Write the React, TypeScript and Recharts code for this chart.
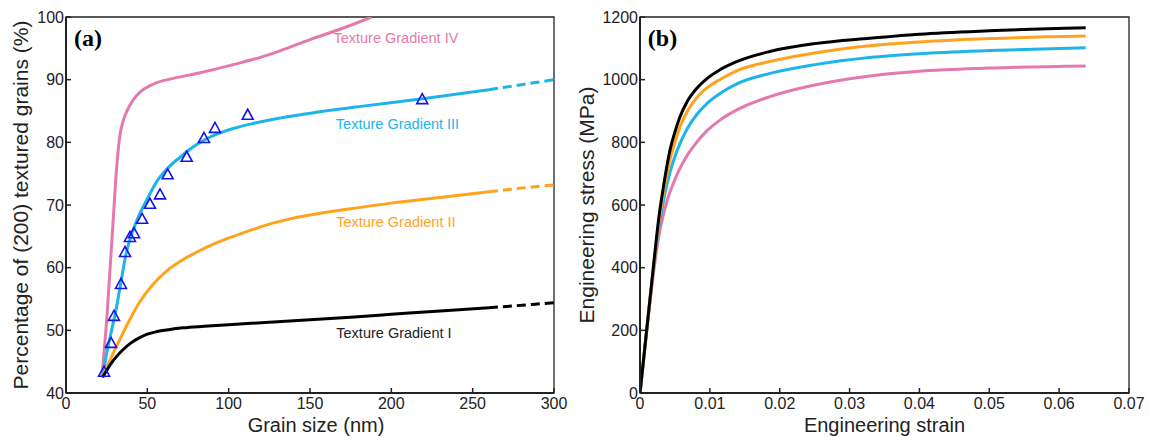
import React from 'react'
import { ComposedChart, LineChart, Line, Scatter, XAxis, YAxis, ReferenceArea, ReferenceDot } from 'recharts'

const PINK = '#E579AE'
const BLUE = '#1DB4EA'
const ORANGE = '#FFA31F'
const BLACK = '#000000'
const AXIS = '#222222'

// panel (a): grain size (nm) vs. percentage of (200) textured grains
const grainTicks = [0, 50, 100, 150, 200, 250, 300]
const percentTicks = [40, 50, 60, 70, 80, 90, 100]

const sizeIV = [22, 25, 27, 29, 31, 33.2, 35, 37.3, 41.4, 45.5, 53.7, 66, 82.4, 102.8, 120, 131.5, 150, 170, 188]
const pctIV = [42.5, 51.6, 59.5, 67.5, 75.5, 81.2, 83.3, 84.9, 86.8, 88, 89.3, 90.2, 91.1, 92.4, 93.6, 94.6, 96.4, 98.2, 100]

const sizeIII = [22.5, 25, 28, 30, 33, 37, 41, 45.5, 49.6, 55.7, 61.9, 70, 78.3, 86.5, 94.7, 102.8, 115, 130, 144, 180, 218, 260]
const pctIII = [42.5, 46.3, 50, 52.3, 56.5, 62.3, 65.8, 68.7, 70.8, 73.7, 75.7, 77.6, 79.3, 80.6, 81.5, 82.2, 83, 83.8, 84.4, 85.7, 86.9, 88.4]
const sizeIIIext = [260, 280, 300]
const pctIIIext = [88.4, 89.2, 90.0]

const sizeII = [22.5, 25, 28, 33, 39, 45.5, 53, 62, 72, 82, 92, 103, 115, 130, 150, 175, 200, 230, 260]
const pctII = [42.5, 44, 45.8, 48.5, 51.6, 54.6, 57.2, 59.5, 61.3, 62.7, 63.9, 65, 66.1, 67.3, 68.4, 69.4, 70.3, 71.2, 72.1]
const sizeIIext = [260, 280, 300]
const pctIIext = [72.1, 72.7, 73.2]

const sizeI = [22.5, 25, 28, 31, 35, 40, 45, 50, 56, 63, 72, 85, 100, 120, 145, 175, 200, 230, 260]
const pctI = [42.5, 43.6, 44.8, 45.8, 46.9, 48, 48.8, 49.4, 49.8, 50.1, 50.4, 50.65, 50.9, 51.2, 51.6, 52.1, 52.55, 53.1, 53.6]
const sizeIext = [260, 280, 300]
const pctIext = [53.6, 54, 54.4]

const measuredSize = [23.4, 27.7, 29.5, 33.8, 36.3, 39.3, 41.8, 46.8, 51.6, 57.8, 62.5, 74.2, 84.8, 91.6, 111.7, 219]
const measuredPct = [43.4, 48, 52.3, 57.4, 62.5, 64.9, 65.5, 67.8, 70.2, 71.7, 74.9, 77.7, 80.7, 82.3, 84.4, 86.9]

// panel (b): engineering stress-strain curves
const strainTicks = [0, 0.01, 0.02, 0.03, 0.04, 0.05, 0.06, 0.07]
const stressTicks = [0, 200, 400, 600, 800, 1000, 1200]

const strain = [0, 0.001, 0.002, 0.0027, 0.0033, 0.0038, 0.0043, 0.005, 0.0057, 0.0068, 0.0081, 0.0095, 0.0114, 0.014, 0.0186, 0.025, 0.0329, 0.04, 0.05, 0.0638]
const stressI = [0, 210, 420, 560, 650, 718, 776, 833, 880, 932, 972, 1002, 1031, 1059, 1090, 1115, 1132, 1145, 1156, 1166]
const stressII = [0, 210, 415, 545, 630, 692, 745, 800, 848, 900, 942, 972, 1000, 1030, 1058, 1085, 1108, 1120, 1131, 1139]
const stressIII = [0, 208, 410, 530, 605, 660, 705, 755, 795, 845, 888, 922, 955, 988, 1020, 1048, 1071, 1083, 1093, 1102]
const stressIV = [0, 205, 395, 500, 565, 607, 642, 682, 716, 760, 800, 835, 870, 905, 946, 983, 1012, 1027, 1037, 1044]

const pts = (xs: number[], ys: number[]) => xs.map((x, i) => ({ x, y: ys[i] }))

function YTitle({ viewBox, text, bx }: any) {
  const cx = viewBox.x + bx
  const cy = viewBox.y + viewBox.height / 2
  return (
    <text x={cx} y={cy} transform={`rotate(-90 ${cx} ${cy})`} textAnchor="middle" fontSize={21} fill={AXIS}>
      {text}
    </text>
  )
}

function XTitle({ viewBox, text, dx }: any) {
  return (
    <text x={viewBox.x + viewBox.width / 2 + dx} y={viewBox.y + 39} textAnchor="middle" fontSize={20} fill={AXIS}>
      {text}
    </text>
  )
}

function Triangle({ cx, cy }: any) {
  if (cx == null || cy == null) return null
  const h = 9
  const w = 11
  return (
    <polygon
      points={`${cx},${cy - h / 2 - 1} ${cx - w / 2},${cy + h / 2} ${cx + w / 2},${cy + h / 2}`}
      fill="none"
      stroke="#1414E6"
      strokeWidth={1.6}
    />
  )
}

const tickStyle = { fill: AXIS, fontSize: 16 }
const tickLine = { stroke: AXIS, strokeWidth: 1.5 }
const axisLine = { stroke: AXIS, strokeWidth: 2 }
const margin = { top: 17, right: 21, bottom: 0, left: 0 }
const serif = '"Liberation Serif", "Times New Roman", serif'

function GrainPanel() {
  return (
    <ComposedChart width={575} height={437} margin={margin}>
      <ReferenceArea x1={0} x2={300} y1={40} y2={100} fill="none" stroke={AXIS} strokeWidth={1.3} />
      <XAxis
        type="number"
        dataKey="x"
        domain={[0, 300]}
        ticks={grainTicks}
        interval={0}
        allowDataOverflow
        height={44}
        tickSize={-5}
        tickMargin={10}
        tick={tickStyle}
        tickLine={tickLine}
        axisLine={axisLine}
        label={<XTitle text="Grain size (nm)" dx={6} />}
      />
      <YAxis
        type="number"
        dataKey="y"
        domain={[40, 100]}
        ticks={percentTicks}
        interval={0}
        allowDataOverflow
        width={66}
        tickSize={-5}
        tickMargin={7}
        tick={tickStyle}
        tickLine={tickLine}
        axisLine={axisLine}
        label={<YTitle text="Percentage of (200) textured grains (%)" bx={28} />}
      />
      <Line data={pts(sizeIV, pctIV)} dataKey="y" type="monotone" stroke={PINK} strokeWidth={3} dot={false} isAnimationActive={false} />
      <Line data={pts(sizeIII, pctIII)} dataKey="y" type="monotone" stroke={BLUE} strokeWidth={3} dot={false} isAnimationActive={false} />
      <Line data={pts(sizeIIIext, pctIIIext)} dataKey="y" type="monotone" stroke={BLUE} strokeWidth={3} strokeDasharray="9 5" dot={false} isAnimationActive={false} />
      <Line data={pts(sizeII, pctII)} dataKey="y" type="monotone" stroke={ORANGE} strokeWidth={3} dot={false} isAnimationActive={false} />
      <Line data={pts(sizeIIext, pctIIext)} dataKey="y" type="monotone" stroke={ORANGE} strokeWidth={3} strokeDasharray="9 5" dot={false} isAnimationActive={false} />
      <Line data={pts(sizeI, pctI)} dataKey="y" type="monotone" stroke={BLACK} strokeWidth={3} dot={false} isAnimationActive={false} />
      <Line data={pts(sizeIext, pctIext)} dataKey="y" type="monotone" stroke={BLACK} strokeWidth={3} strokeDasharray="9 5" dot={false} isAnimationActive={false} />
      <Scatter data={pts(measuredSize, measuredPct)} dataKey="y" shape={<Triangle />} isAnimationActive={false} />
      <ReferenceDot x={13.5} y={96.8} r={0} fill="none" stroke="none"
        label={{ value: '(a)', position: 'center', fill: BLACK, fontSize: 24, fontWeight: 'bold', fontFamily: serif }} />
      <ReferenceDot x={202.8} y={96.6} r={0} fill="none" stroke="none" label={{ value: 'Texture Gradient IV', position: 'center', fill: PINK, fontSize: 14.5 }} />
      <ReferenceDot x={203.8} y={82.9} r={0} fill="none" stroke="none" label={{ value: 'Texture Gradient III', position: 'center', fill: BLUE, fontSize: 14.5 }} />
      <ReferenceDot x={202.8} y={67.3} r={0} fill="none" stroke="none" label={{ value: 'Texture Gradient II', position: 'center', fill: ORANGE, fontSize: 14.5 }} />
      <ReferenceDot x={201.6} y={49.6} r={0} fill="none" stroke="none" label={{ value: 'Texture Gradient I', position: 'center', fill: '#222', fontSize: 14.5 }} />
    </ComposedChart>
  )
}

function StressPanel() {
  return (
    <LineChart width={575} height={437} margin={margin}>
      <ReferenceArea x1={0} x2={0.07} y1={0} y2={1200} fill="none" stroke={AXIS} strokeWidth={1.3} />
      <XAxis
        type="number"
        dataKey="x"
        domain={[0, 0.07]}
        ticks={strainTicks}
        interval={0}
        allowDataOverflow
        height={44}
        tickSize={-5}
        tickMargin={10}
        tick={tickStyle}
        tickLine={tickLine}
        axisLine={axisLine}
        tickFormatter={(v: number) => (v === 0 ? '0' : v.toFixed(2))}
        label={<XTitle text="Engineering strain" dx={0} />}
      />
      <YAxis
        type="number"
        dataKey="y"
        domain={[0, 1200]}
        ticks={stressTicks}
        interval={0}
        allowDataOverflow
        width={65}
        tickSize={-5}
        tickMargin={7}
        tick={tickStyle}
        tickLine={tickLine}
        axisLine={axisLine}
        label={<YTitle text="Engineering stress (MPa)" bx={19} />}
      />
      <Line data={pts(strain, stressIV)} dataKey="y" type="monotone" stroke={PINK} strokeWidth={3} dot={false} isAnimationActive={false} />
      <Line data={pts(strain, stressIII)} dataKey="y" type="monotone" stroke={BLUE} strokeWidth={3} dot={false} isAnimationActive={false} />
      <Line data={pts(strain, stressII)} dataKey="y" type="monotone" stroke={ORANGE} strokeWidth={3} dot={false} isAnimationActive={false} />
      <Line data={pts(strain, stressI)} dataKey="y" type="monotone" stroke={BLACK} strokeWidth={3} dot={false} isAnimationActive={false} />
      <ReferenceDot x={0.00322} y={1136} r={0} fill="none" stroke="none"
        label={{ value: '(b)', position: 'center', fill: BLACK, fontSize: 24, fontWeight: 'bold', fontFamily: serif }} />
    </LineChart>
  )
}

export default function App() {
  return (
    <div
      style={{
        position: 'absolute',
        left: 0,
        top: 0,
        width: 1150,
        height: 437,
        background: '#fff',
        fontFamily: '"Liberation Sans", Arial, Helvetica, sans-serif',
      }}
    >
      <div style={{ position: 'absolute', left: 0, top: 0 }}>
        <GrainPanel />
      </div>
      <div style={{ position: 'absolute', left: 575, top: 0 }}>
        <StressPanel />
      </div>
    </div>
  )
}
